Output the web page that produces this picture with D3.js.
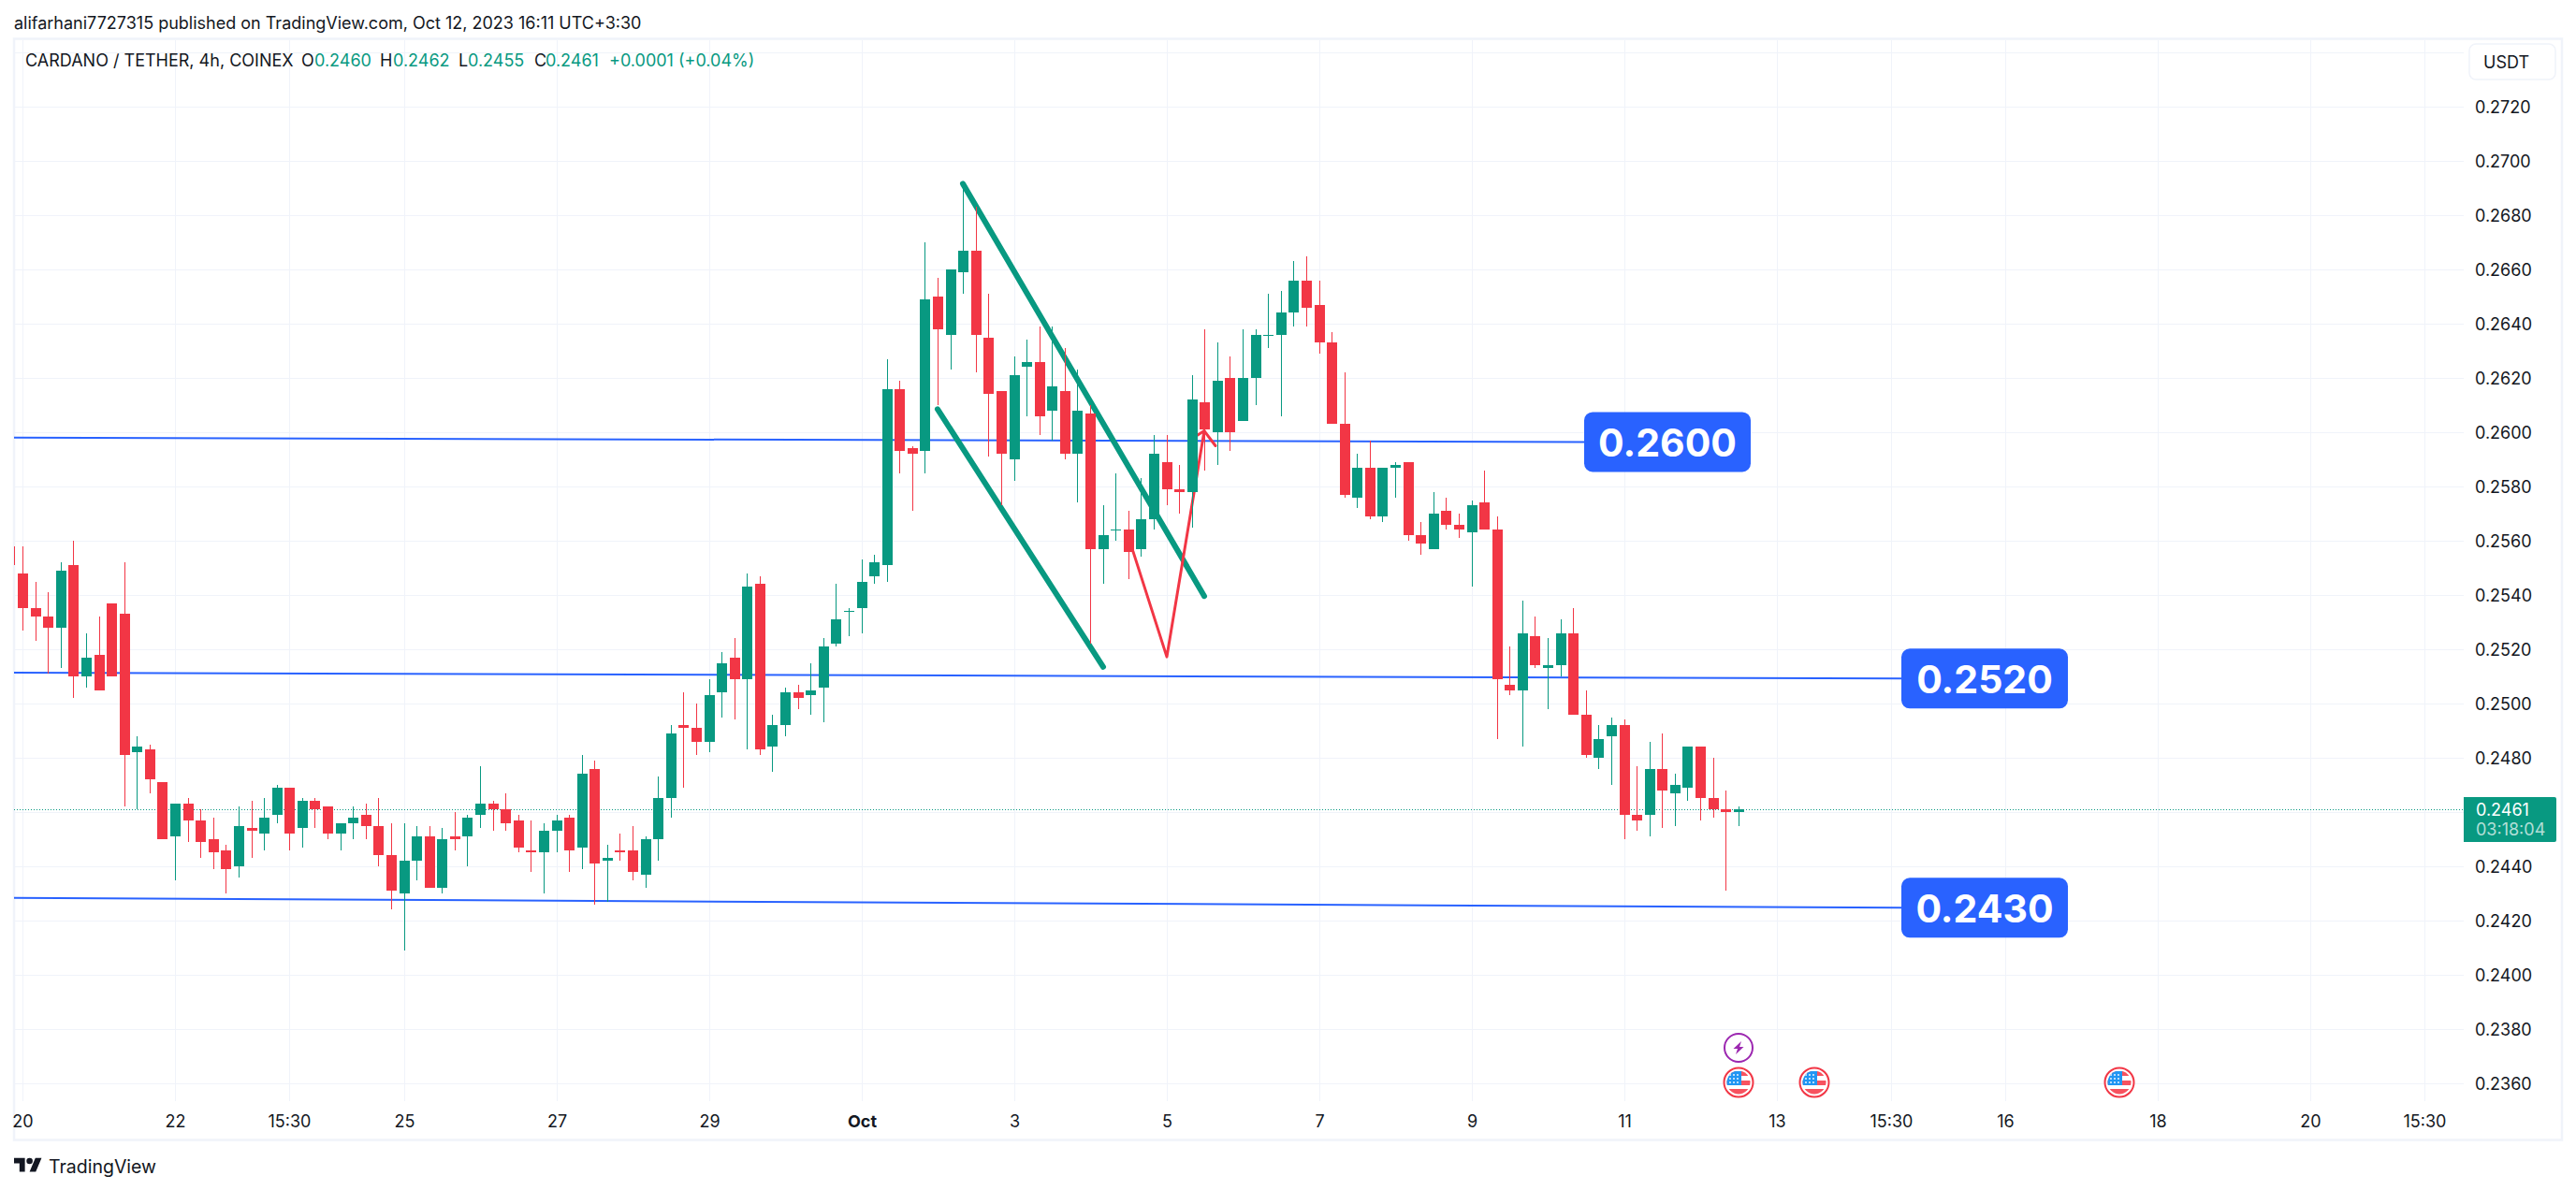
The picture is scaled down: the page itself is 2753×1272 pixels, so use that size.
<!DOCTYPE html>
<html>
<head>
<meta charset="utf-8">
<script src="https://cdn.jsdelivr.net/npm/d3@7"></script>
<style>
html, body { margin: 0; padding: 0; background: #fff; }
svg { display: block; }
text { font-family: Inter, "Noto Sans", sans-serif; fill: #131722; }
</style>
</head>
<body>
<svg></svg>
<script>
// candles, 4h bars, bar 0 = Sep 20 00:00, bar -1 is cut by the left edge
var firstBar = -1;
var opens = [.2558,.2548,.2535,.2532,.2528,.2551,.2510,.2518,.2537,.2533,.2482,.2483,.2471,.2451,.2463,.2457,.2450,.2446,.2440,.2454,.2452,.2459,.2469,.2454,.2464,.2462,.2452,.2456,.2459,.2455,.2444,.2430,.2442,.2451,.2432,.2451,.2451,.2459,.2463,.2461,.2457,.2446,.2445,.2453,.2458,.2447,.2476,.2442,.2446,.2446,.2437,.2450,.2465,.2492,.2491,.2486,.2504,.2517,.2509,.2544,.2484,.2492,.2504,.2503,.2506,.2522,.2534,.2535,.2547,.2551,.2616,.2594,.2593,.2650,.2636,.2659,.2667,.2635,.2615,.2590,.2624,.2626,.2608,.2615,.2592,.2607,.2557,.2564,.2564,.2557,.2568,.2589,.2579,.2578,.2611,.2600,.2620,.2604,.2620,.2636,.2636,.2644,.2656,.2647,.2633,.2603,.2576,.2587,.2569,.2587,.2589,.2562,.2557,.2571,.2566,.2563,.2574,.2564,.2507,.2505,.2525,.2513,.2514,.2526,.2496,.2480,.2488,.2492,.2459,.2459,.2476,.2467,.2469,.2484,.2465,.2461,.2460];
var highs = [.2558,.2558,.2545,.2541,.2552,.2560,.2526,.2532,.2537,.2552,.2488,.2485,.2471,.2463,.2465,.2461,.2458,.2448,.2462,.2464,.2465,.2470,.2469,.2465,.2465,.2462,.2456,.2462,.2463,.2465,.2456,.2456,.2455,.2455,.2454,.2460,.2459,.2477,.2464,.2467,.2459,.2457,.2456,.2459,.2459,.2481,.2479,.2448,.2452,.2455,.2451,.2473,.2492,.2504,.2500,.2509,.2519,.2524,.2548,.2547,.2496,.2506,.2507,.2515,.2524,.2544,.2535,.2553,.2555,.2627,.2619,.2595,.2670,.2657,.2660,.2691,.2683,.2651,.2615,.2628,.2634,.2639,.2639,.2631,.2623,.2610,.2573,.2585,.2571,.2583,.2599,.2599,.2588,.2621,.2638,.2633,.2628,.2638,.2638,.2651,.2652,.2663,.2665,.2656,.2637,.2622,.2592,.2597,.2587,.2589,.2589,.2567,.2578,.2576,.2570,.2575,.2586,.2569,.2521,.2538,.2532,.2524,.2531,.2535,.2505,.2492,.2495,.2494,.2477,.2486,.2489,.2474,.2484,.2484,.2480,.2468,.2462];
var lows = [.2551,.2527,.2523,.2511,.2513,.2502,.2506,.2505,.2510,.2462,.2461,.2467,.2450,.2435,.2449,.2443,.2439,.2430,.2436,.2443,.2446,.2456,.2446,.2447,.2454,.2450,.2446,.2450,.2450,.2440,.2424,.2409,.2435,.2432,.2430,.2446,.2440,.2454,.2453,.2453,.2445,.2438,.2430,.2445,.2438,.2439,.2426,.2427,.2442,.2435,.2432,.2442,.2458,.2469,.2481,.2482,.2495,.2494,.2483,.2481,.2475,.2488,.2498,.2496,.2493,.2521,.2525,.2526,.2544,.2545,.2585,.2571,.2585,.2610,.2623,.2651,.2622,.2591,.2573,.2582,.2606,.2599,.2597,.2590,.2574,.2522,.2544,.2560,.2546,.2554,.2564,.2573,.2570,.2565,.2586,.2588,.2593,.2604,.2610,.2631,.2606,.2639,.2639,.2629,.2603,.2576,.2572,.2568,.2567,.2576,.2560,.2555,.2557,.2564,.2561,.2543,.2564,.2487,.2503,.2484,.2513,.2498,.2510,.2496,.2480,.2476,.2470,.2450,.2453,.2451,.2454,.2455,.2464,.2457,.2458,.2431,.2455];
var closes = [.2551,.2535,.2532,.2528,.2549,.2510,.2517,.2505,.2510,.2481,.2484,.2472,.2450,.2463,.2457,.2449,.2445,.2439,.2455,.2453,.2458,.2469,.2452,.2464,.2461,.2452,.2456,.2458,.2455,.2444,.2431,.2442,.2451,.2432,.2450,.2450,.2458,.2463,.2461,.2456,.2447,.2445,.2453,.2457,.2446,.2474,.2441,.2443,.2445,.2438,.2450,.2465,.2489,.2491,.2486,.2503,.2515,.2509,.2543,.2483,.2492,.2504,.2502,.2505,.2521,.2531,.2534,.2545,.2552,.2616,.2593,.2592,.2649,.2638,.2660,.2667,.2636,.2614,.2592,.2621,.2626,.2606,.2617,.2592,.2608,.2557,.2562,.2564,.2556,.2568,.2592,.2579,.2578,.2612,.2601,.2619,.2600,.2620,.2636,.2636,.2644,.2656,.2646,.2633,.2603,.2577,.2587,.2569,.2587,.2588,.2562,.2559,.2570,.2566,.2564,.2573,.2564,.2509,.2505,.2526,.2514,.2514,.2526,.2496,.2481,.2487,.2492,.2459,.2457,.2476,.2468,.2470,.2484,.2465,.2461,.2460,.2461];

// axis ticks
var priceTicks = [.2360,.2380,.2400,.2420,.2440,.2460,.2480,.2500,.2520,.2540,.2560,.2580,.2600,.2620,.2640,.2660,.2680,.2700,.2720,.2740];
var timeBars = [0,12,21,30,42,54,66,78,90,102,114,126,138,147,156,168,180,189];
var timeLabels = ['20','22','15:30','25','27','29','Oct','3','5','7','9','11','13','15:30','16','18','20','15:30'];

// drawings, [bar, price]
var levelPrices = ['0.2600','0.2520','0.2430'];
var levelEndBar = [122.9,147.8,147.8];
var levelLeft = [.25980,.25114,.24284];
var levelRight = [.25964,.25092,.24247];
var channelUpper = [[74,.26916],[93,.25396]];
var channelLower = [[72,.26085],[85,.25135]];
var redPath = [[87.4,.2556],[90,.25172],[93,.26005]];
var redBarbs = [[92.45,.2599],[93,.26005],[93.9,.2595]];

// events
var boltBars = [135];
var flagBars = [135,141,165];

var lastPrice = .2461;
var green = '#089981', red = '#F23645', blue = '#2962FF', gridColor = '#F0F3FA';

var svgWidth = 2753, svgHeight = 1272;
var plotLeft = 15, plotRight = 2633, plotTop = 43, plotBottom = 1177;

var svg = d3.select('svg')
.attr('width', svgWidth)
.attr('height', svgHeight);

var xScale = d3.scaleLinear()
.domain([0, 12])
.range([24, 187])
.interpolate(d3.interpolateRound);

var yScale = d3.scaleLinear()
.domain([.2360, .2720])
.range([1158, 114]);

svg.append('clipPath').attr('id', 'plot')
.append('rect')
.attr('x', plotLeft).attr('y', plotTop)
.attr('width', plotRight - plotLeft).attr('height', plotBottom - plotTop);

// frame
svg.append('rect')
.attr('x', 15).attr('y', 41.5)
.attr('width', 2723).attr('height', 1177)
.attr('fill', 'none')
.attr('stroke', gridColor)
.attr('stroke-width', 2.5);

// grid
var gridY = svg.append('g')
.attr('transform', 'translate(' + plotLeft + ',0)')
.call(d3.axisRight(yScale).tickValues(priceTicks).tickSize(plotRight - plotLeft).tickFormat(''));
gridY.select('.domain').remove();
gridY.selectAll('line').attr('stroke', gridColor);

var gridX = svg.append('g')
.attr('transform', 'translate(0,' + plotBottom + ')')
.call(d3.axisTop(xScale).tickValues(timeBars).tickSize(plotBottom - plotTop).tickFormat(''));
gridX.select('.domain').remove();
gridX.selectAll('line').attr('stroke', gridColor);

// axes
var yAxis = svg.append('g')
.attr('transform', 'translate(2645,0)')
.call(d3.axisRight(yScale)
  .tickValues(priceTicks.filter(function(d){ return d < .273; }))
  .tickSize(0).tickPadding(0).tickFormat(d3.format('.4f')));
yAxis.select('.domain').remove();
yAxis.selectAll('text').style('font-size', '18px').attr('dy', '0.34em').attr('fill', '#131722');

var xAxis = svg.append('g')
.attr('transform', 'translate(0,' + plotBottom + ')')
.call(d3.axisBottom(xScale)
  .tickValues(timeBars).tickSize(0).tickPadding(0)
  .tickFormat(function(d, i){ return timeLabels[i]; }));
xAxis.select('.domain').remove();
xAxis.selectAll('text')
.style('font-size', '18px')
.attr('y', 28).attr('dy', 0)
.attr('fill', '#131722')
.style('font-weight', function(d, i){ return timeLabels[i] == 'Oct' ? 700 : 400; });

var plot = svg.append('g').attr('clip-path', 'url(#plot)');

var line = d3.line().x(function(p){ return xScale(p[0]); }).y(function(p){ return yScale(p[1]); });

// level lines
plot.selectAll('.level')
.data(levelPrices)
.enter()
.append('path')
.attr('d', function(d, i){
  return line([[firstBar, levelLeft[i]], [levelEndBar[i], levelRight[i]]]);
})
.attr('stroke', blue)
.attr('stroke-width', 2)
.attr('fill', 'none');

// last price line
plot.append('line')
.attr('x1', plotLeft).attr('x2', plotRight)
.attr('y1', Math.floor(yScale(lastPrice)) + 0.5).attr('y2', Math.floor(yScale(lastPrice)) + 0.5)
.attr('stroke', green)
.attr('stroke-dasharray', '1 2');

// channel and swing drawings go under the candles
plot.selectAll('.channel')
.data([channelUpper, channelLower])
.enter()
.append('path')
.attr('d', line)
.attr('stroke', green)
.attr('stroke-width', 6)
.attr('stroke-linecap', 'round')
.attr('fill', 'none');

plot.selectAll('.swing')
.data([redPath, redBarbs])
.enter()
.append('path')
.attr('d', line)
.attr('stroke', red)
.attr('stroke-width', 3)
.attr('stroke-linejoin', 'round')
.attr('stroke-linecap', 'round')
.attr('fill', 'none');

// candles
var candles = plot.selectAll('.candle')
.data(opens)
.enter()
.append('g')
.attr('fill', function(d, i){ return closes[i] >= d ? green : red; });

candles.append('rect') // wick
.attr('x', function(d, i){ return xScale(i + firstBar); })
.attr('width', 1)
.attr('y', function(d, i){ return Math.round(yScale(highs[i])); })
.attr('height', function(d, i){ return Math.round(yScale(lows[i])) - Math.round(yScale(highs[i])); });

candles.append('rect') // body
.attr('x', function(d, i){ return xScale(i + firstBar) - 5; })
.attr('width', 11)
.attr('y', function(d, i){ return Math.round(yScale(Math.max(d, closes[i]))); })
.attr('height', function(d, i){
  return Math.max(1, Math.round(yScale(Math.min(d, closes[i]))) - Math.round(yScale(Math.max(d, closes[i]))));
});

// level labels
var boxes = svg.selectAll('.levelbox')
.data(levelPrices)
.enter()
.append('g')
.attr('transform', function(d, i){
  return 'translate(' + xScale(levelEndBar[i]) + ',' + yScale(levelRight[i]) + ')';
});

boxes.append('rect')
.attr('x', 0).attr('y', -32)
.attr('width', 178).attr('height', 64)
.attr('rx', 9)
.attr('fill', blue);

boxes.append('text')
.attr('x', 89).attr('y', 1)
.attr('dy', '0.36em')
.attr('text-anchor', 'middle')
.style('font-size', '41px')
.style('font-weight', 700)
.style('fill', '#fff')
.text(function(d){ return d; });

// last price tag
var tag = svg.append('g').attr('transform', 'translate(2633,852)');
tag.append('path')
.attr('d', 'M0,0H97a2,2 0 0 1 2,2V46a2,2 0 0 1 -2,2H0Z')
.attr('fill', green);
tag.append('text').attr('x', 13).attr('y', 20).style('font-size', '18px').style('fill', '#fff').text(d3.format('.4f')(lastPrice));
tag.append('text').attr('x', 13).attr('y', 41).style('font-size', '18px').style('fill', 'rgba(255,255,255,0.7)').text('03:18:04');

// currency button
svg.append('rect')
.attr('x', 2639).attr('y', 47)
.attr('width', 92).attr('height', 38)
.attr('rx', 7)
.attr('fill', '#fff')
.attr('stroke', gridColor)
.attr('stroke-width', 1.5);
svg.append('text').attr('x', 2654).attr('y', 72.5).style('font-size', '18px').text('USDT');

// event icons
var bolts = svg.selectAll('.bolt')
.data(boltBars)
.enter()
.append('g')
.attr('transform', function(d){ return 'translate(' + xScale(d) + ',1120)'; });
bolts.append('circle').attr('r', 15).attr('fill', '#fff').attr('stroke', '#9C27B0').attr('stroke-width', 2);
bolts.append('path').attr('d', 'M3,-7 L-5.5,1 L-1,1 L-3,7 L5.5,-1 L1,-1 Z').attr('fill', '#9C27B0');

svg.append('clipPath').attr('id', 'flagclip').append('circle').attr('r', 12.5);

var flags = svg.selectAll('.flag')
.data(flagBars)
.enter()
.append('g')
.attr('transform', function(d){ return 'translate(' + xScale(d) + ',1157)'; });
flags.append('circle').attr('r', 15.5).attr('fill', '#fff').attr('stroke', red).attr('stroke-width', 2);
var flagInner = flags.append('g').attr('clip-path', 'url(#flagclip)');
flagInner.append('rect').attr('x', -13).attr('y', -12).attr('width', 26).attr('height', 5).attr('fill', '#F7525F');
flagInner.append('rect').attr('x', -13).attr('y', -2).attr('width', 26).attr('height', 5).attr('fill', '#F7525F');
flagInner.append('rect').attr('x', -13).attr('y', 7).attr('width', 26).attr('height', 6).attr('fill', '#F7525F');
flagInner.append('rect').attr('x', -13).attr('y', -12).attr('width', 16).attr('height', 15).attr('fill', '#2196F3');
[-8, -4, 0].forEach(function(cy){
  [-9, -5, -1].forEach(function(cx){
    flagInner.append('circle').attr('cx', cx).attr('cy', cy).attr('r', 0.9).attr('fill', '#fff');
  });
});

// header
svg.append('text').attr('x', 15).attr('y', 31).style('font-size', '18px')
.text('alifarhani7727315 published on TradingView.com, Oct 12, 2023 16:11 UTC+3:30');

var legendNames = ['CARDANO / TETHER, 4h, COINEX', 'O', 'H', 'L', 'C'];
var legendNameX = [27, 322, 406, 490, 571];
var legendValues = ['0.2460', '0.2462', '0.2455', '0.2461', '+0.0001 (+0.04%)'];
var legendValueX = [336, 420, 500, 583, 651];

svg.selectAll('.legendname')
.data(legendNames)
.enter()
.append('text')
.attr('x', function(d, i){ return legendNameX[i]; })
.attr('y', 71)
.style('font-size', '18px')
.text(function(d){ return d; });

svg.selectAll('.legendvalue')
.data(legendValues)
.enter()
.append('text')
.attr('x', function(d, i){ return legendValueX[i]; })
.attr('y', 71)
.style('font-size', '18px')
.style('fill', green)
.text(function(d){ return d; });

// logo
var logo = svg.append('g').attr('transform', 'translate(15,1236) scale(0.83)').attr('fill', '#131722');
logo.append('path').attr('d', 'M14 20H7V9H0V2h14v18zM28 20h-8l7.5-18h8L28 20z');
logo.append('circle').attr('cx', 20).attr('cy', 6).attr('r', 4);
svg.append('text').attr('x', 52).attr('y', 1254).style('font-size', '19.5px').text('TradingView');
</script>
</body>
</html>
